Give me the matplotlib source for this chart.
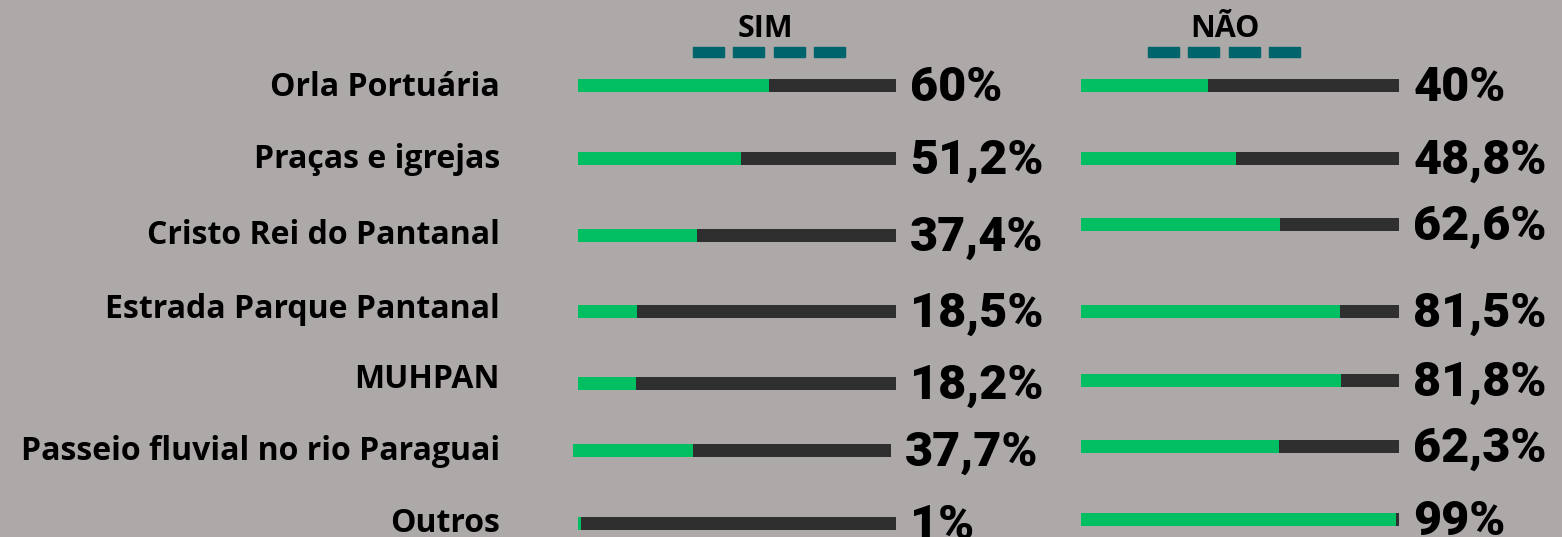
import matplotlib.pyplot as plt

# data
places = ['Orla Portuária', 'Praças e igrejas', 'Cristo Rei do Pantanal',
          'Estrada Parque Pantanal', 'MUHPAN', 'Passeio fluvial no rio Paraguai', 'Outros']
sim = [60, 51.2, 37.4, 18.5, 18.2, 37.7, 1]
nao = [40, 48.8, 62.6, 81.5, 81.8, 62.3, 99]
sim_labels = ['60%', '51,2%', '37,4%', '18,5%', '18,2%', '37,7%', '1%']
nao_labels = ['40%', '48,8%', '62,6%', '81,5%', '81,8%', '62,3%', '99%']

# layout (pixel rows, the infographic is not perfectly regular)
W, H = 1562, 537
sim_rows = [85, 158, 235, 311, 383, 450, 523]
nao_rows = [85, 158, 224, 311, 380, 446, 519]
label_rows = [88, 160, 236, 310, 379, 452, 523]
sim_shift = [0, 0, 0, 0, 0, -1.6, 0]

bg = '#ada9a8'
green = '#00bf63'
dark = '#2f2f2f'
teal = '#00646c'

label_font = ['Open Sans', 'DejaVu Sans']
pct_font = ['Roboto', 'DejaVu Sans']

fig = plt.figure(figsize=(W / 100, H / 100), dpi=100)
fig.patch.set_facecolor(bg)


def panel(x0, rows, vals, labels, shift, title, title_x, dash_x0):
    ax = fig.add_axes([x0 / W, 0, 318 / W, 1])
    ax.set_xlim(0, 100)
    ax.set_ylim(H, 0)
    ax.axis('off')
    ax.barh(rows, [100] * len(rows), left=shift, height=13, color=dark, clip_on=False)
    ax.barh(rows, vals, left=shift, height=13, color=green, clip_on=False)
    for y, s, lab in zip(rows, shift, labels):
        ax.text(104.5 + s, y + 3, lab, fontsize=35, fontweight='black', family=pct_font,
                va='center', ha='left', color='black')
    fig.text(title_x / W, 1 - 29 / H, title, fontsize=22, fontweight='bold',
             family=label_font, ha='center', va='center')
    for i in range(4):
        fig.patches.append(plt.Rectangle(((dash_x0 + i * 40.3) / W, 1 - 57 / H), 31 / W, 10 / H,
                                         transform=fig.transFigure, color=teal, figure=fig))


panel(578, sim_rows, sim, sim_labels, sim_shift, 'SIM', 765, 693)
panel(1081, nao_rows, nao, nao_labels, [0] * 7, 'NÃO', 1225, 1148)

for y, name in zip(label_rows, places):
    fig.text(500 / W, 1 - y / H, name, fontsize=23, fontweight='bold', family=label_font,
             ha='right', va='center')

fig.savefig('out.png', dpi=100, facecolor=bg)
